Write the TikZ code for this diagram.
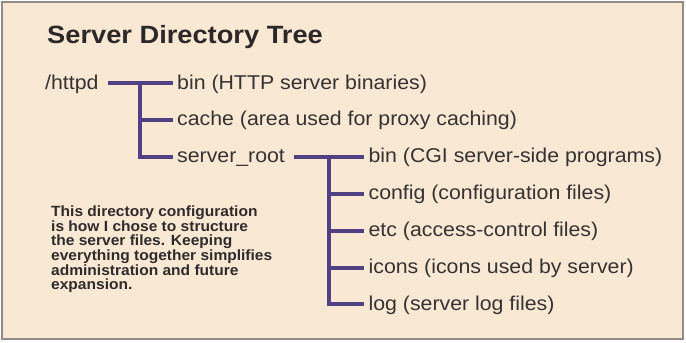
\documentclass[tikz,border=0pt]{standalone}
\usepackage{fontspec}
\usepackage{xcolor}
\usepackage{tikz}
\usetikzlibrary{positioning,calc}
\newfontfamily\bodyfont[FakeStretch=1.065]{Liberation Sans}
\newfontfamily\headfont[FakeStretch=1.09]{Liberation Sans}
\newfontfamily\notefont[FakeStretch=1.05]{Liberation Sans}
\definecolor{paper}{RGB}{249,232,211}
\definecolor{frame}{RGB}{145,140,138}
\definecolor{ink}{RGB}{55,50,50}
\definecolor{treeline}{RGB}{82,64,132}

\begin{document}
\begin{tikzpicture}[
    item/.style={font=\bodyfont\fontsize{20pt}{24pt}\selectfont,text=ink,inner xsep=4pt,inner ysep=0pt,text height=16pt,text depth=4pt},
    head/.style={font=\headfont\bfseries\fontsize{25pt}{30pt}\selectfont,text=ink!80!black,inner sep=0pt},
    note/.style={font=\notefont\bfseries\fontsize{14.8pt}{13.8pt}\selectfont,text=ink!85!black,inner sep=0pt,align=left},
    tree/.style={draw=treeline,line width=4pt},
    x=1pt,y=1pt
  ]
    \useasboundingbox (0,0) rectangle (686,-343);
    \draw[fill=paper,draw=frame,line width=1.2pt] (2,-2) rectangle (683,-339);
    \node[head,anchor=base west] (title) at (47,-43) {Server Directory Tree};
    % top level
    \node[item,anchor=west] (httpd) at (41,-83) {/httpd};
    \node[item,anchor=west] (bin1) at (173,-83) {bin (HTTP server binaries)};
    \node[item,below=16.5pt of bin1.south west,anchor=north west] (cache) {cache (area used for proxy caching)};
    \node[item,below=16.5pt of cache.south west,anchor=north west] (sroot) {server\_root};
    % under server_root
    \node[item,right=75.3pt of sroot] (cgi) {bin (CGI server-side programs)};
    \node[item,below=16.5pt of cgi.south west,anchor=north west] (config) {config (configuration files)};
    \node[item,below=16.5pt of config.south west,anchor=north west] (etc) {etc (access-control files)};
    \node[item,below=16.5pt of etc.south west,anchor=north west] (icons) {icons (icons used by server)};
    \node[item,below=16.5pt of icons.south west,anchor=north west] (log) {log (server log files)};
    \node[note,anchor=north west] (remark) at (51,-206) {This directory configuration\\is how I chose to structure\\the server files. Keeping\\everything together simplifies\\administration and future\\expansion.};
    \coordinate (j1) at ($([xshift=5pt]httpd.east)!0.5!(bin1.west)$);
    \coordinate (j2) at ($([xshift=5pt]sroot.east)!0.5!(cgi.west)$);
    \draw[tree,shorten <=5pt] (httpd) -- (bin1);
    \draw[tree] (j1) |- (cache);
    \draw[tree] (j1) |- (sroot);
    \draw[tree,shorten <=5pt] (sroot) -- (cgi);
    \draw[tree] (j2) |- (config);
    \draw[tree] (j2) |- (etc);
    \draw[tree] (j2) |- (icons);
    \draw[tree] (j2) |- (log);
  \end{tikzpicture}
\end{document}
